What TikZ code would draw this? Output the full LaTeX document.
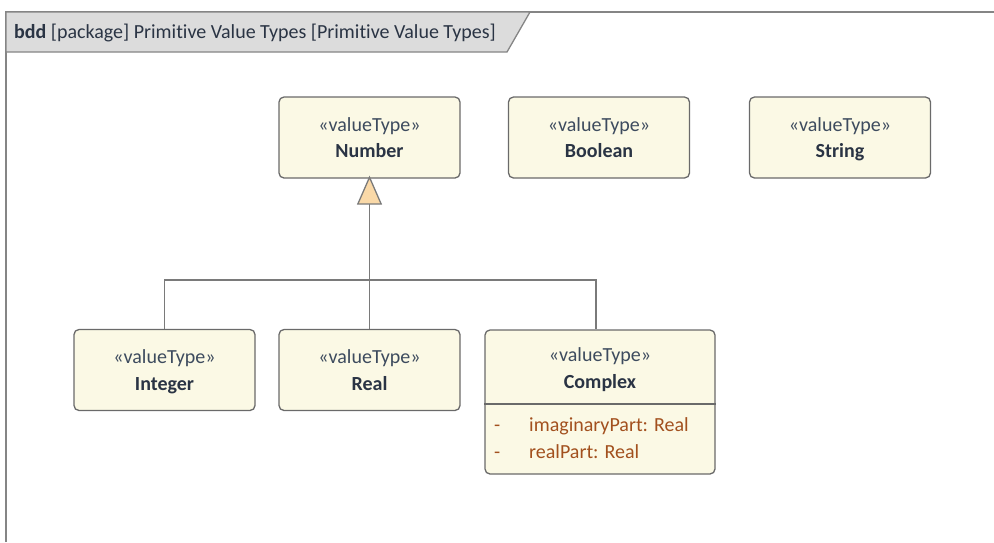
\documentclass[tikz,border=0pt]{standalone}
\usepackage{fontspec}
\setmainfont{Carlito}[Ligatures={NoCommon}]
\usetikzlibrary{arrows.meta}
\definecolor{boxfill}{HTML}{FBF9E5}
\definecolor{boxline}{HTML}{6A6A6A}
\definecolor{stc}{HTML}{3D4B5E}
\definecolor{namec}{HTML}{2A3444}
\definecolor{attrc}{HTML}{A2501E}
\definecolor{hdrfill}{HTML}{DCDCDC}
\definecolor{framec}{HTML}{858585}
\definecolor{trifill}{HTML}{FAD9A8}
\definecolor{linec}{HTML}{7A7A7A}
\newcommand{\vt}[1]{{\color{stc}\rule{0pt}{21.5pt}«valueType»}\\\textcolor{namec}{\textbf{#1}\rule[-7.8pt]{0pt}{7.8pt}}}
\begin{document}
\begin{tikzpicture}[x=1pt,y=-1pt,
  vbox/.style={draw=boxline, line width=1.3pt, fill=boxfill, rounded corners=5pt, inner sep=0pt, minimum width=181pt, minimum height=81pt, align=center, font=\fontsize{20}{26.5}\selectfont},
  vtext/.style={align=center, inner sep=0pt, font=\fontsize{20}{26.5}\selectfont},
  attr/.style={inner sep=0pt, anchor=base west, text=attrc, font=\fontsize{20}{24}\selectfont},
  conn/.style={draw=linec, line width=1.3pt}]
\useasboundingbox (0,0) rectangle (994,542);
% frame
\draw[framec, line width=2pt] (6,542) -- (6,12) -- (994,12);
\path[draw=framec, line width=1.3pt, fill=hdrfill] (6,12) -- (530,12) -- (507,52) -- (6,52) -- cycle;
\node[anchor=base west, inner sep=0pt, font=\fontsize{20}{24}\selectfont, text=namec] (title) at (14,38) {\textbf{bdd} [package] Primitive Value Types [Primitive Value Types]};
% boxes
\node[vbox] (number) at (369.5,137.5) {\vt{Number}};
\node[vbox] (boolean) at (599,137.5) {\vt{Boolean}};
\node[vbox] (string) at (840,137.5) {\vt{String}};
\node[vbox] (integer) at (164.5,370) {\vt{Integer}};
\node[vbox] (real) at (369.5,370) {\vt{Real}};
\node[vbox, minimum width=230pt, minimum height=144pt] (complex) at (600,402) {};
\draw[boxline, line width=1.3pt] (complex.west |- 0,404) -- (complex.east |- 0,404);
\node[vtext] (ctitle) at (600,368) {\vt{Complex}};
\node[attr] (d1) at (494,431) {-};
\node[attr] (a1) at (529,431) {imaginaryPart: Real};
\node[attr] (d2) at (494,458) {-};
\node[attr] (a2) at (529,458) {realPart: Real};
% generalization
\coordinate (hub) at (369.5,280);
\draw[conn, -{Triangle[length=29pt,width=25pt,fill=trifill,line width=1.3pt]}] (real.north) -- ([yshift=3pt]number.south);
\draw[conn] (integer.north) |- (hub) -| ([xshift=-4pt]complex.north);
\end{tikzpicture}
\end{document}
